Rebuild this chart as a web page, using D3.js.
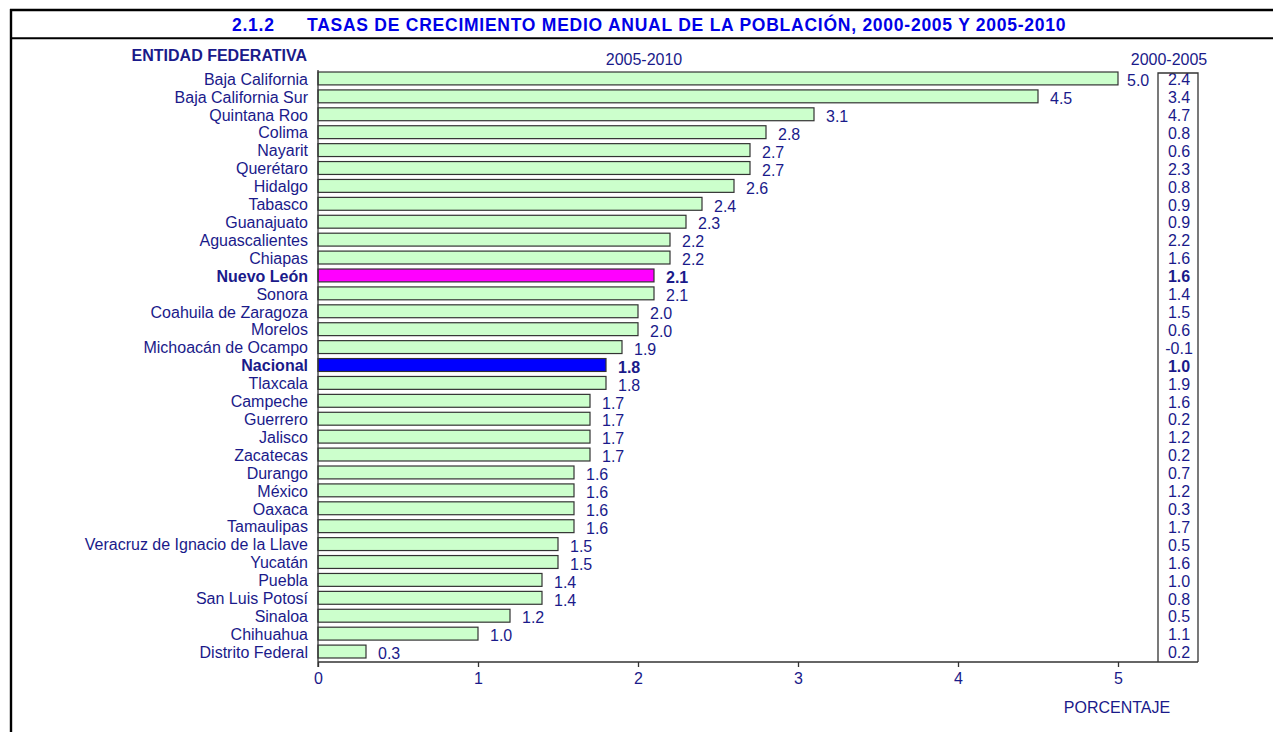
<!DOCTYPE html>
<html><head><meta charset="utf-8">
<script src="https://cdn.jsdelivr.net/npm/d3@7"></script>
<style>
body{margin:0;background:#fff;}
svg text{font-family:"Liberation Sans",Arial,sans-serif;}
</style></head>
<body>
<svg id="c" width="1273" height="732"></svg>
<script>
const categories = ["Baja California","Baja California Sur","Quintana Roo","Colima","Nayarit","Querétaro","Hidalgo","Tabasco","Guanajuato","Aguascalientes","Chiapas","Nuevo León","Sonora","Coahuila de Zaragoza","Morelos","Michoacán de Ocampo","Nacional","Tlaxcala","Campeche","Guerrero","Jalisco","Zacatecas","Durango","México","Oaxaca","Tamaulipas","Veracruz de Ignacio de la Llave","Yucatán","Puebla","San Luis Potosí","Sinaloa","Chihuahua","Distrito Federal"];
const rate2005_2010 = [5.0,4.5,3.1,2.8,2.7,2.7,2.6,2.4,2.3,2.2,2.2,2.1,2.1,2.0,2.0,1.9,1.8,1.8,1.7,1.7,1.7,1.7,1.6,1.6,1.6,1.6,1.5,1.5,1.4,1.4,1.2,1.0,0.3];
const rate2000_2005 = [2.4,3.4,4.7,0.8,0.6,2.3,0.8,0.9,0.9,2.2,1.6,1.6,1.4,1.5,0.6,-0.1,1.0,1.9,1.6,0.2,1.2,0.2,0.7,1.2,0.3,1.7,0.5,1.6,1.0,0.8,0.5,1.1,0.2];
const xTicks = [0,1,2,3,4,5];
const highlight = {"Nuevo León":"#ff00ff","Nacional":"#0000ff"};

const navy = "#1a1a8a";
const fs = 16;
const svg = d3.select("#c");

// frame
svg.append("line").attr("x1",10).attr("x2",1273).attr("y1",10).attr("y2",10).attr("stroke","#000").attr("stroke-width",2.4);
svg.append("line").attr("x1",10).attr("x2",1273).attr("y1",38.3).attr("y2",38.3).attr("stroke","#000").attr("stroke-width",2);
svg.append("line").attr("x1",11).attr("x2",11).attr("y1",9).attr("y2",732).attr("stroke","#000").attr("stroke-width",2.4);

// title
const title = svg.append("text").attr("y",31).attr("fill","#0000e6").attr("font-weight","bold").attr("font-size",17.5).attr("letter-spacing",0.75);
title.append("tspan").attr("x",232).text("2.1.2");
title.append("tspan").attr("x",307).text("TASAS DE CRECIMIENTO MEDIO ANUAL DE LA POBLACIÓN, 2000-2005 Y 2005-2010");

const x = d3.scaleLinear().domain([0,5]).range([318,1118]);
const y = d3.scaleBand().domain(categories).range([69.5,660.5]).paddingInner(0.28).paddingOuter(0.14);

svg.append("text").attr("x",307).attr("y",61).attr("text-anchor","end").attr("font-weight","bold").attr("font-size",fs).attr("fill",navy).text("ENTIDAD FEDERATIVA");
svg.append("text").attr("x",644).attr("y",65).attr("text-anchor","middle").attr("font-size",fs).attr("fill",navy).text("2005-2010");
svg.append("text").attr("x",1169).attr("y",65).attr("text-anchor","middle").attr("font-size",fs).attr("fill",navy).text("2000-2005");

// bars
svg.append("g").selectAll("rect").data(categories).join("rect")
  .attr("x",x(0)).attr("y",d=>y(d)).attr("height",y.bandwidth())
  .attr("width",(d,i)=>x(rate2005_2010[i])-x(0))
  .attr("fill",d=>highlight[d]||"#ccffcc").attr("stroke","#333").attr("stroke-width",1.2);

// category labels
svg.append("g").selectAll("text").data(categories).join("text")
  .attr("x",308).attr("y",d=>y(d)+y.bandwidth()/2+0.5).attr("dy","0.36em")
  .attr("text-anchor","end").attr("font-size",fs).attr("fill",navy)
  .attr("font-weight",d=>highlight[d]?"bold":"normal").text(d=>d);

// value labels
svg.append("g").selectAll("text").data(categories).join("text")
  .attr("x",(d,i)=>Math.min(x(rate2005_2010[i])+12,1127)).attr("y",d=>y(d)+y.bandwidth()/2+2).attr("dy","0.36em")
  .attr("font-size",fs).attr("fill",navy)
  .attr("font-weight",d=>highlight[d]?"bold":"normal").text((d,i)=>rate2005_2010[i].toFixed(1));

// right column
svg.append("g").selectAll("text").data(categories).join("text")
  .attr("x",1179).attr("y",d=>y(d)+y.bandwidth()/2+1).attr("dy","0.36em").attr("text-anchor","middle")
  .attr("font-size",fs).attr("fill",navy)
  .attr("font-weight",d=>highlight[d]?"bold":"normal").text((d,i)=>rate2000_2005[i].toFixed(1));

svg.append("path").attr("d","M1158,662V73H1198V662").attr("fill","none").attr("stroke","#333").attr("stroke-width",1.3);

// axis
const axisG = svg.append("g").attr("transform","translate(0,662)")
  .call(d3.axisBottom(x).tickValues(xTicks).tickSize(5).tickPadding(6).tickFormat(d3.format("d")));
axisG.select(".domain").remove();
axisG.selectAll(".tick line").attr("stroke","#333").attr("stroke-width",1.3);
axisG.selectAll(".tick text").attr("font-size",fs).attr("fill",navy).attr("font-family","Liberation Sans, Arial, sans-serif");
svg.append("line").attr("x1",318).attr("x2",1198).attr("y1",662).attr("y2",662).attr("stroke","#333").attr("stroke-width",1.3);
svg.append("line").attr("x1",318).attr("x2",318).attr("y1",70).attr("y2",667).attr("stroke","#333").attr("stroke-width",1.3);

svg.append("text").attr("x",1117).attr("y",713).attr("text-anchor","middle").attr("font-size",fs).attr("fill",navy).text("PORCENTAJE");
</script>
</body></html>
